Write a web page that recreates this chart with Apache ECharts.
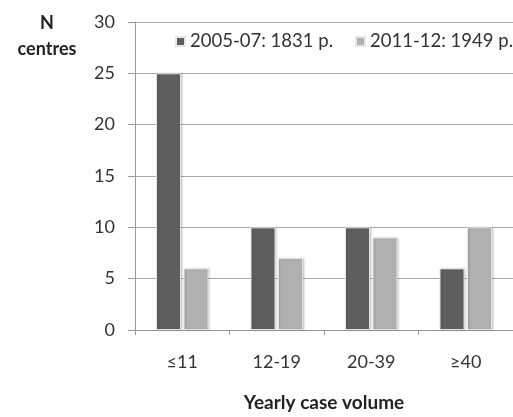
<!DOCTYPE html>
<html>
<head>
<meta charset="utf-8">
<script src="https://cdn.jsdelivr.net/npm/echarts@6/dist/echarts.min.js"></script>
<style>
html,body{margin:0;padding:0;background:#fff;}
#main{width:513px;height:417px;}
</style>
</head>
<body>
<div id="main"></div>
<script>
const categories = ['≤11', '12-19', '20-39', '≥40'];
const seriesNames = ['2005-07: 1831 p.', '2011-12: 1949 p.'];
const values2005 = [25, 10, 10, 6];
const values2011 = [6, 7, 9, 10];
const yTicks = [0, 5, 10, 15, 20, 25, 30];

const FONT = 'Lato, "Open Sans", sans-serif';
const chart = echarts.init(document.getElementById('main'));
const barStyle = (c) => ({
  color: c,
  borderColor: '#e6e6e6',
  borderWidth: 1,
  shadowColor: 'rgba(0,0,0,0.18)',
  shadowBlur: 2,
  shadowOffsetX: 1,
  shadowOffsetY: 0
});
chart.setOption({
  animation: false,
  textStyle: { fontFamily: FONT },
  grid: { left: 135, top: 22, width: 385, height: 313, containLabel: false },
  legend: {
    left: 175, top: 32, width: 400, padding: 0,
    orient: 'horizontal',
    icon: 'rect', itemWidth: 9, itemHeight: 9, itemGap: 22,
    textStyle: { fontFamily: FONT, fontSize: 18.5, color: '#333' },
    data: seriesNames
  },
  graphic: [
    { type: 'text', x: 47, y: 14, style: { text: 'N', fontFamily: FONT, fontWeight: 'bold', fontSize: 18, fill: '#222', textAlign: 'center' } },
    { type: 'text', x: 47, y: 40, style: { text: 'centres', fontFamily: FONT, fontWeight: 'bold', fontSize: 18, fill: '#222', textAlign: 'center' } }
  ],
  xAxis: {
    type: 'category',
    data: categories,
    name: 'Yearly case volume',
    nameLocation: 'middle',
    nameGap: 63,
    nameTextStyle: { fontFamily: FONT, fontWeight: 'bold', fontSize: 19, color: '#222' },
    axisLine: { lineStyle: { color: '#999', width: 1 } },
    axisTick: { show: true, length: 5, lineStyle: { color: '#999' } },
    axisLabel: { margin: 23, fontSize: 18, color: '#333', fontFamily: FONT }
  },
  yAxis: {
    type: 'value',
    min: yTicks[0], max: yTicks[yTicks.length - 1], interval: 5,
    axisLine: { show: true, lineStyle: { color: '#999', width: 1 } },
    axisTick: { show: true, length: 7, lineStyle: { color: '#999' } },
    axisLabel: { margin: 20, fontSize: 18, color: '#333', fontFamily: FONT },
    splitLine: { lineStyle: { color: '#a8a8a8', width: 1 } }
  },
  series: [
    { name: seriesNames[0], type: 'bar', data: values2005, barWidth: 25, barGap: '10%', barCategoryGap: '46%', itemStyle: barStyle('#5e5e5e') },
    { name: seriesNames[1], type: 'bar', data: values2011, barWidth: 25, barGap: '10%', itemStyle: barStyle('#b0b0b0') }
  ]
});
</script>
</body>
</html>
